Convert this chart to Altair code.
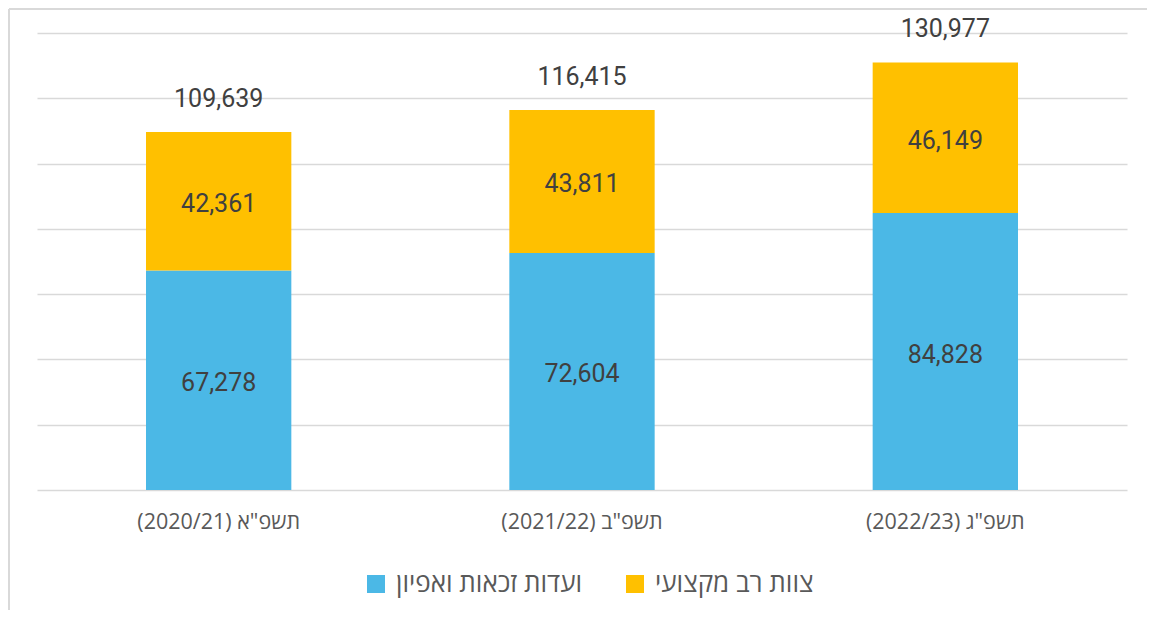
import altair as alt
import pandas as pd

categories = ['\u202bתשפ"א (2020/21)\u202c', '\u202bתשפ"ב (2021/22)\u202c', '\u202bתשפ"ג (2022/23)\u202c']
series_names = ["ועדות זכאות ואפיון", "צוות רב מקצועי"]
committees = [67278, 72604, 84828]
multi_team = [42361, 43811, 46149]
totals = [109639, 116415, 130977]
colors = ["#4BB8E6", "#FFC000"]

rows = []
for i, c in enumerate(categories):
    start = 0
    for s, vals in enumerate([committees, multi_team]):
        v = vals[i]
        rows.append({"cat": c, "series": series_names[s], "order": s,
                     "value": v, "start": start, "end": start + v,
                     "mid": start + v / 2})
        start += v
df = pd.DataFrame(rows)
tot_df = pd.DataFrame({"cat": categories, "total": totals})

x_enc = alt.X("cat:N", sort=categories, title=None,
              scale=alt.Scale(paddingInner=0.6, paddingOuter=0.3),
              axis=alt.Axis(labelAngle=0, domain=False, ticks=False,
                            labelFontSize=21.5, labelColor="#595959",
                            labelPadding=21, labelFont="Open Sans"))
y_scale = alt.Scale(domain=[0, 140000], nice=False)

bars = alt.Chart(df).mark_bar().encode(
    x=x_enc,
    y=alt.Y("end:Q", scale=y_scale, title=None,
            axis=alt.Axis(values=list(range(0, 140001, 20000)), labels=False,
                          ticks=False, domain=False, grid=True,
                          gridColor="#D9D9D9", gridWidth=1.5)),
    y2="start:Q",
    color=alt.Color("series:N", scale=alt.Scale(domain=series_names, range=colors),
                    title=None,
                    legend=alt.Legend(orient="none", legendX=326, legendY=538,
                                      direction="horizontal", symbolType="square",
                                      symbolSize=324, symbolStrokeWidth=0,
                                      labelFontSize=26, labelColor="#595959",
                                      labelFont="Open Sans",
                                      columnPadding=39, labelOffset=7,
                                      labelLimit=400)),
    order="order:Q",
)

seg_text = alt.Chart(df).mark_text(fontSize=25, color="#404040", baseline="middle",
                                   dy=3, font="Roboto").encode(
    x=alt.X("cat:N", sort=categories),
    y=alt.Y("mid:Q", scale=y_scale),
    text=alt.Text("value:Q", format=","),
)

tot_text = alt.Chart(tot_df).mark_text(fontSize=25, color="#404040", baseline="middle",
                                       dy=-33, font="Roboto").encode(
    x=alt.X("cat:N", sort=categories),
    y=alt.Y("total:Q", scale=y_scale),
    text=alt.Text("total:Q", format=","),
)

border_data = alt.Data(values=[{"a": 1}])
left_border = alt.Chart(border_data).mark_rule(color="#D9D9D9", strokeWidth=2).encode(
    x=alt.value(-28), y=alt.value(-24), y2=alt.value(580))
top_border = alt.Chart(border_data).mark_rule(color="#D9D9D9", strokeWidth=2).encode(
    y=alt.value(-24), x=alt.value(-28), x2=alt.value(1130))

chart = alt.layer(bars, seg_text, tot_text, left_border, top_border).properties(
    width=1090, height=457,
    autosize=alt.AutoSizeParams(type="none"),
    padding={"left": 29, "top": 25, "right": 20, "bottom": 120},
).configure(font="Open Sans").configure_view(stroke=None)

chart.save("out.html", embed_options={"renderer": "svg", "actions": False})
